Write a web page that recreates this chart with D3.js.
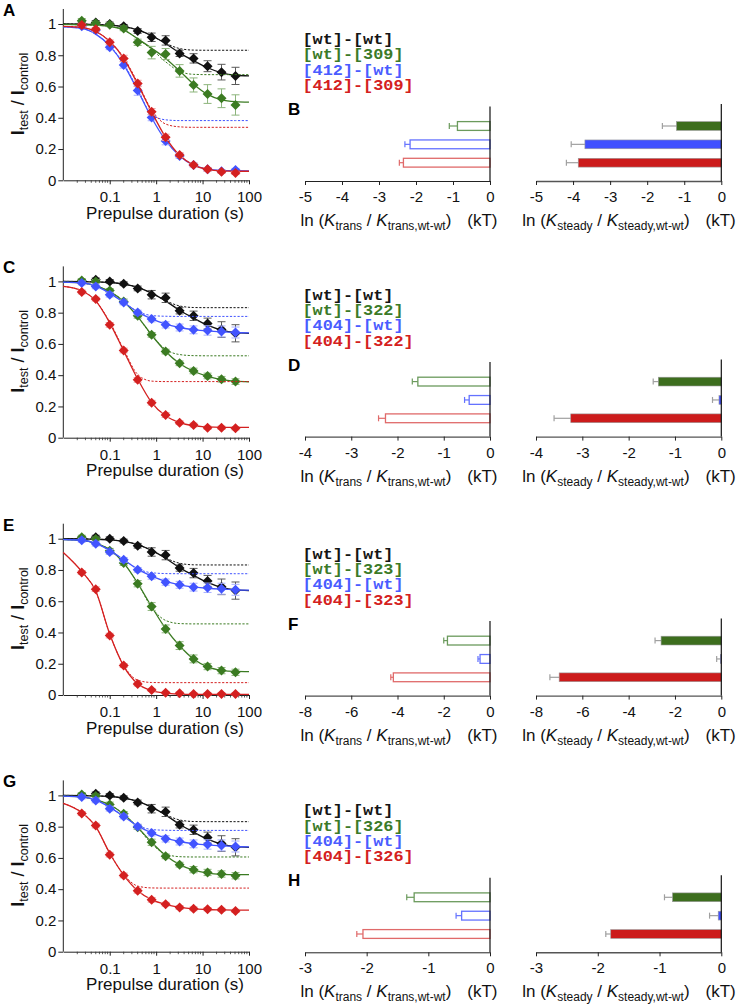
<!DOCTYPE html>
<html><head><meta charset="utf-8">
<script src="https://cdn.jsdelivr.net/npm/d3@7"></script>
<style>body{margin:0;background:#fff} svg{display:block}</style>
</head><body><svg id="c" width="741" height="1005"></svg>
<script>
// ---------- DATA ----------
const durations = [0.025,0.05,0.1,0.2,0.4,0.8,1.6,3.2,6.4,12.8,25.6,51.2];
const fitDurations = [0.01,0.025,0.05,0.1,0.2,0.4,0.8,1.6,3.2,6.4,12.8,25.6,51.2,100];
const yTickVals = [0,0.2,0.4,0.6,0.8,1];
const yTickLabels = ["0","0.2","0.4","0.6","0.8","1"];
const xTickVals = [0.1,1,10,100];
const xTickLabels = ["0.1","1","10","100"];

// [wt]-[wt] (all panels)
const wtwt_mean = [1.0,1.01,1.0,0.985,0.955,0.915,0.895,0.812,0.78,0.73,0.692,0.668];
const wtwt_sem  = [0.012,0.012,0.012,0.012,0.015,0.027,0.03,0.02,0.03,0.035,0.05,0.055];
const wtwt_fit  = [1.0,0.999,0.997,0.993,0.983,0.962,0.925,0.875,0.815,0.765,0.72,0.688,0.672,0.668];
const wtwt_fit1 = [1.0,0.999,0.997,0.993,0.983,0.962,0.925,0.877,0.843,0.833,0.832,0.832,0.832,0.832];

// [404]-[wt] (C, E, G)
const m404wt_mean = [0.99,0.968,0.915,0.865,0.801,0.759,0.722,0.705,0.69,0.686,0.68,0.673];
const m404wt_sem  = [0.012,0.015,0.015,0.015,0.015,0.018,0.02,0.022,0.025,0.03,0.035,0.035];
const m404wt_fit  = [0.995,0.99,0.97,0.925,0.865,0.805,0.76,0.727,0.705,0.692,0.683,0.677,0.673,0.671];
const m404wt_fit1 = [0.995,0.99,0.97,0.925,0.866,0.808,0.782,0.777,0.776,0.776,0.776,0.776,0.776,0.776];

// Panel A
const wt309_mean = [1.02,1.005,0.995,0.972,0.883,0.817,0.808,0.70,0.61,0.552,0.525,0.482];
const wt309_sem  = [0.015,0.012,0.012,0.015,0.02,0.04,0.035,0.04,0.045,0.06,0.06,0.065];
const wt309_fit  = [0.997,0.995,0.992,0.985,0.963,0.905,0.845,0.78,0.70,0.615,0.55,0.515,0.503,0.5];
const wt309_fit1 = [0.997,0.995,0.992,0.985,0.963,0.905,0.838,0.758,0.697,0.678,0.676,0.676,0.676,0.676];
const m412wt_mean = [0.985,0.96,0.851,0.738,0.574,0.401,0.252,0.156,0.098,0.07,0.058,0.066];
const m412wt_sem  = [0.01,0.012,0.015,0.02,0.03,0.02,0.025,0.015,0.012,0.012,0.01,0.01];
const m412wt_fit  = [0.982,0.972,0.935,0.86,0.74,0.575,0.40,0.255,0.155,0.097,0.072,0.063,0.061,0.06];
const m412wt_fit1 = [0.982,0.972,0.935,0.862,0.745,0.585,0.42,0.387,0.382,0.382,0.382,0.382,0.382,0.382];
const m412_309_mean = [0.994,0.966,0.883,0.78,0.62,0.439,0.275,0.162,0.098,0.07,0.055,0.047];
const m412_309_sem  = [0.01,0.012,0.015,0.02,0.02,0.02,0.02,0.015,0.012,0.012,0.01,0.01];
const m412_309_fit  = [0.985,0.978,0.952,0.89,0.78,0.615,0.438,0.275,0.16,0.097,0.07,0.06,0.058,0.058];
const m412_309_fit1 = [0.985,0.978,0.952,0.89,0.785,0.625,0.45,0.36,0.342,0.339,0.339,0.339,0.339,0.339];

// Panel C
const wt322_mean = [1.006,1.0,0.942,0.872,0.78,0.658,0.551,0.476,0.427,0.395,0.374,0.359];
const wt322_sem  = [0.012,0.012,0.012,0.015,0.015,0.015,0.015,0.015,0.018,0.018,0.018,0.018];
const wt322_fit  = [0.995,0.99,0.972,0.935,0.872,0.775,0.657,0.552,0.475,0.425,0.393,0.372,0.362,0.358];
const wt322_fit1 = [0.995,0.99,0.972,0.935,0.872,0.775,0.655,0.565,0.532,0.525,0.524,0.524,0.524,0.524];
const m404_322_mean = [0.932,0.887,0.722,0.558,0.37,0.224,0.145,0.096,0.081,0.064,0.064,0.06];
const m404_322_sem  = [0.012,0.012,0.015,0.015,0.015,0.015,0.015,0.012,0.012,0.01,0.01,0.01];
const m404_322_fit  = [0.968,0.94,0.875,0.735,0.555,0.375,0.225,0.14,0.097,0.077,0.069,0.066,0.066,0.066];
const m404_322_fit1 = [0.968,0.94,0.875,0.74,0.565,0.405,0.362,0.359,0.359,0.359,0.359,0.359,0.359,0.359];

// Panel E
const wt323_mean = [1.01,0.998,0.923,0.844,0.712,0.566,0.423,0.316,0.231,0.182,0.156,0.145];
const wt323_sem  = [0.012,0.012,0.015,0.015,0.02,0.025,0.025,0.025,0.025,0.02,0.02,0.02];
const wt323_fit  = [0.995,0.99,0.97,0.93,0.845,0.715,0.565,0.425,0.315,0.23,0.18,0.158,0.151,0.15];
const wt323_fit1 = [0.995,0.99,0.97,0.93,0.845,0.715,0.56,0.477,0.457,0.455,0.455,0.455,0.455,0.455];
const m404_323_mean = [0.784,0.677,0.38,0.188,0.07,0.032,0.015,0.011,0.006,0.006,0.006,0.006];
const m404_323_sem  = [0.012,0.015,0.015,0.012,0.012,0.01,0.008,0.008,0.008,0.008,0.008,0.008];
const m404_323_fit  = [0.912,0.79,0.665,0.39,0.185,0.072,0.028,0.012,0.006,0.004,0.004,0.004,0.004,0.004];
const m404_323_fit1 = [0.912,0.79,0.665,0.39,0.19,0.095,0.08,0.079,0.079,0.079,0.079,0.079,0.079,0.079];

// Panel G
const wt326_mean = [1.006,0.996,0.942,0.882,0.797,0.70,0.61,0.557,0.525,0.507,0.497,0.486];
const wt326_sem  = [0.012,0.012,0.015,0.015,0.015,0.02,0.015,0.015,0.02,0.02,0.02,0.02];
const wt326_fit  = [0.995,0.99,0.972,0.94,0.88,0.795,0.70,0.615,0.557,0.522,0.503,0.495,0.493,0.493];
const wt326_fit1 = [0.995,0.99,0.972,0.94,0.88,0.795,0.69,0.625,0.608,0.606,0.606,0.606,0.606,0.606];
const m404_326_mean = [0.884,0.807,0.621,0.488,0.39,0.332,0.304,0.283,0.274,0.272,0.268,0.261];
const m404_326_sem  = [0.012,0.015,0.015,0.015,0.015,0.015,0.012,0.012,0.012,0.01,0.01,0.01];
const m404_326_fit  = [0.949,0.89,0.80,0.63,0.49,0.39,0.333,0.302,0.284,0.274,0.27,0.267,0.266,0.266];
const m404_326_fit1 = [0.949,0.89,0.80,0.63,0.495,0.42,0.408,0.407,0.407,0.407,0.407,0.407,0.407,0.407];

// Legends
const legendA = ["[wt]-[wt]","[wt]-[309]","[412]-[wt]","[412]-[309]"];
const legendC = ["[wt]-[wt]","[wt]-[322]","[404]-[wt]","[404]-[322]"];
const legendE = ["[wt]-[wt]","[wt]-[323]","[404]-[wt]","[404]-[323]"];
const legendG = ["[wt]-[wt]","[wt]-[326]","[404]-[wt]","[404]-[326]"];

// Bar panels (order: green, blue, red)
const transB = [-0.88,-2.16,-2.34], transErrB = [0.22,0.14,0.11];
const steadyB = [-1.21,-3.68,-3.86], steadyErrB = [0.38,0.37,0.32];
const transD = [-1.56,-0.45,-2.26], transErrD = [0.12,0.10,0.15];
const steadyD = [-1.36,-0.05,-3.25], steadyErrD = [0.11,0.14,0.36];
const transF = [-1.84,-0.43,-4.18], transErrF = [0.16,0.09,0.11];
const steadyF = [-2.6,-0.04,-7.0], steadyErrF = [0.26,0.16,0.40];
const transH = [-1.23,-0.46,-2.06], transErrH = [0.12,0.09,0.10];
const steadyH = [-0.79,-0.05,-1.79], steadyErrH = [0.13,0.14,0.08];
const barTicksB = [-5,-4,-3,-2,-1,0], barLabelsB = ["-5","-4","-3","-2","-1","0"];
const barTicksD = [-4,-3,-2,-1,0], barLabelsD = ["-4","-3","-2","-1","0"];
const barTicksF = [-8,-6,-4,-2,0], barLabelsF = ["-8","-6","-4","-2","0"];
const barTicksH = [-3,-2,-1,0], barLabelsH = ["-3","-2","-1","0"];

// ---------- STYLE / LAYOUT ----------
const col = ["#111111","#3b7b22","#4254ff","#d42020"];
const errCol = ["#5a5a5a","#8db57c","#a8b0ff","#f0a2a2"];
const barFill = ["#3d6e1e","#4050ff","#cc1b1b"];
const openStroke = ["#6b9a5c","#6472ff","#e06a6a"];
const leftDY = [0,257.4,514.7,771.4];
const rightDY = [0,255.6,514.6,771.3];
const FONT = '"Liberation Sans",Arial,Helvetica,sans-serif';
const MONO = '"Liberation Mono","Courier New",Courier,monospace';
const svg = d3.select("#c");

const linePanels = [
  {letter:"A", series:[[wtwt_mean,wtwt_sem,wtwt_fit,wtwt_fit1],[wt309_mean,wt309_sem,wt309_fit,wt309_fit1],[m412wt_mean,m412wt_sem,m412wt_fit,m412wt_fit1],[m412_309_mean,m412_309_sem,m412_309_fit,m412_309_fit1]]},
  {letter:"C", series:[[wtwt_mean,wtwt_sem,wtwt_fit,wtwt_fit1],[wt322_mean,wt322_sem,wt322_fit,wt322_fit1],[m404wt_mean,m404wt_sem,m404wt_fit,m404wt_fit1],[m404_322_mean,m404_322_sem,m404_322_fit,m404_322_fit1]]},
  {letter:"E", series:[[wtwt_mean,wtwt_sem,wtwt_fit,wtwt_fit1],[wt323_mean,wt323_sem,wt323_fit,wt323_fit1],[m404wt_mean,m404wt_sem,m404wt_fit,m404wt_fit1],[m404_323_mean,m404_323_sem,m404_323_fit,m404_323_fit1]]},
  {letter:"G", series:[[wtwt_mean,wtwt_sem,wtwt_fit,wtwt_fit1],[wt326_mean,wt326_sem,wt326_fit,wt326_fit1],[m404wt_mean,m404wt_sem,m404wt_fit,m404wt_fit1],[m404_326_mean,m404_326_sem,m404_326_fit,m404_326_fit1]]}
];
const barPanels = [
  {letter:"B", legend:legendA, trans:transB, transErr:transErrB, steady:steadyB, steadyErr:steadyErrB, ticks:barTicksB, labels:barLabelsB},
  {letter:"D", legend:legendC, trans:transD, transErr:transErrD, steady:steadyD, steadyErr:steadyErrD, ticks:barTicksD, labels:barLabelsD},
  {letter:"F", legend:legendE, trans:transF, transErr:transErrF, steady:steadyF, steadyErr:steadyErrF, ticks:barTicksF, labels:barLabelsF},
  {letter:"H", legend:legendG, trans:transH, transErr:transErrH, steady:steadyH, steadyErr:steadyErrH, ticks:barTicksH, labels:barLabelsH}
];

function styleAxis(g, size){
  g.attr("font-family", FONT).attr("font-size", size);
  g.selectAll("text").attr("fill","#111").style("font-family", FONT);
  g.selectAll("line").attr("stroke","#222");
}
function txt(sel){ return sel.append("text").style("font-family", FONT); }

// ---------- LINE PANELS ----------
linePanels.forEach((p, pi) => {
  const dy = leftDY[pi];
  const x = d3.scaleLog().domain([0.01,100]).range([63.3,249]);
  const y = d3.scaleLinear().domain([0,1]).range([180.3+dy, 24+dy]);
  const g = svg.append("g");

  txt(g).attr("x",3).attr("y",16+dy).attr("font-size",17).attr("font-weight","bold").attr("fill","#000").text(p.letter);

  // y axis
  const gy = g.append("g").attr("transform","translate(63.3,0)")
    .call(d3.axisLeft(y).tickValues(yTickVals).tickFormat((d,i)=>yTickLabels[i]).tickSize(5).tickPadding(2));
  gy.select(".domain").remove();
  styleAxis(gy, 15);
  g.append("line").attr("x1",x(0.01)).attr("x2",x(0.01)).attr("y1",y(0)).attr("y2",y(1.096)).attr("stroke","#222").attr("stroke-width",1);

  // x axis: majors
  const gx = g.append("g").attr("transform",`translate(0,${y(0)})`)
    .call(d3.axisBottom(x).tickValues(xTickVals).tickFormat((d,i)=>xTickLabels[i]).tickSize(4).tickPadding(7.5).tickSizeOuter(0));
  gx.select(".domain").attr("stroke","#222");
  styleAxis(gx, 15);
  // minors
  const minors = [];
  [0.01,0.1,1,10].forEach(dec => { for (let k=2;k<=9;k++) minors.push(dec*k); });
  g.append("g").selectAll("line").data(minors).join("line")
    .attr("x1",d=>x(d)).attr("x2",d=>x(d)).attr("y1",y(0)).attr("y2",y(0)+2.5)
    .attr("stroke","#333").attr("stroke-width",0.8);

  // titles
  txt(g).attr("x",165).attr("y",219+dy).attr("text-anchor","middle").attr("font-size",17).attr("fill","#111").text("Prepulse duration (s)");
  const yt = txt(g).attr("transform",`translate(24,${94+dy}) rotate(-90)`).attr("text-anchor","middle").attr("font-size",18).attr("fill","#111");
  yt.append("tspan").attr("font-weight","bold").text("I");
  yt.append("tspan").attr("font-size",12.5).attr("dy",4).text("test");
  yt.append("tspan").attr("dy",-4).text(" / ");
  yt.append("tspan").attr("font-weight","bold").text("I");
  yt.append("tspan").attr("font-size",12.5).attr("dy",4).text("control");

  const line = d3.line().x(d=>x(d[0])).y(d=>y(d[1])).curve(d3.curveMonotoneX);
  const sym = d3.symbol(d3.symbolSquare, 50);

  p.series.forEach((s, si) => {
    const [mean, sem, fit, fit1] = s;
    const sg = g.append("g");
    sg.append("path").attr("d", line(fitDurations.map((t,i)=>[t,fit1[i]])))
      .attr("fill","none").attr("stroke",col[si]).attr("stroke-width",1).attr("stroke-dasharray","2.2,1.6");
    sg.append("path").attr("d", line(fitDurations.map((t,i)=>[t,fit[i]])))
      .attr("fill","none").attr("stroke",col[si]).attr("stroke-width",1.3);
    const pts = durations.map((t,i)=>({t, v:mean[i], e:sem[i]}));
    const eg = sg.append("g").attr("stroke",errCol[si]).attr("stroke-width",1);
    eg.selectAll(".v").data(pts).join("line").attr("x1",d=>x(d.t)).attr("x2",d=>x(d.t)).attr("y1",d=>y(d.v-d.e)).attr("y2",d=>y(d.v+d.e));
    eg.selectAll(".t").data(pts).join("line").attr("x1",d=>x(d.t)-4).attr("x2",d=>x(d.t)+4).attr("y1",d=>y(d.v+d.e)).attr("y2",d=>y(d.v+d.e));
    eg.selectAll(".b").data(pts).join("line").attr("x1",d=>x(d.t)-4).attr("x2",d=>x(d.t)+4).attr("y1",d=>y(d.v-d.e)).attr("y2",d=>y(d.v-d.e));
    sg.append("g").selectAll("path").data(pts).join("path")
      .attr("d", sym).attr("transform",d=>`translate(${x(d.t)},${y(d.v)}) rotate(45)`)
      .attr("fill",col[si]);
  });
});

// ---------- BAR PANELS ----------
barPanels.forEach((p, pi) => {
  const dy = rightDY[pi];
  const axisY = 181 + dy;
  const g = svg.append("g");
  const dom = p.ticks[0];

  // legend (glyphs stretched horizontally to the reference's wide monospace look)
  const legCols = ["#151515","#3b7a28","#4a5cff","#d42020"];
  p.legend.forEach((t,i)=>{
    g.append("text").attr("x",302.5).attr("y",44+dy+i*15.3)
      .style("font-family", MONO).attr("font-weight","bold")
      .attr("font-size",14).attr("fill",legCols[i])
      .attr("textLength", t.length*10.1).attr("lengthAdjust","spacingAndGlyphs")
      .text(t);
  });
  txt(g).attr("x",288).attr("y",115+dy).attr("font-size",17).attr("font-weight","bold").attr("fill","#000").text(p.letter);

  const yb = d3.scalePoint().domain([0,1,2]).range([axisY-55, axisY-18.3]);
  const charts = [
    {vals:p.trans, errs:p.transErr, r:[305,490], open:true, zeroTop:74.5, title:["trans","trans,wt-wt"], cx:399},
    {vals:p.steady, errs:p.steadyErr, r:[536,721.3], open:false, zeroTop:77, title:["steady","steady,wt-wt"], cx:629}
  ];
  charts.forEach(c => {
    const xs = d3.scaleLinear().domain([dom,0]).range(c.r);
    const ax = g.append("g").attr("transform",`translate(0,${axisY})`)
      .call(d3.axisBottom(xs).tickValues(p.ticks).tickFormat((d,i)=>p.labels[i]).tickSize(4).tickPadding(6.5).tickSizeOuter(0));
    styleAxis(ax, 15);
    ax.select(".domain").attr("stroke", c.open ? "#222" : "#555").attr("stroke-width", c.open ? 1 : 1.4);

    const data = c.vals.map((v,i)=>({i, v, e:c.errs[i]}));
    const eg = g.append("g");
    eg.selectAll(".l").data(data).join("line")
      .attr("x1",d=>xs(d.v)).attr("x2",d=>xs(d.v-d.e)).attr("y1",d=>yb(d.i)).attr("y2",d=>yb(d.i))
      .attr("stroke",d=>c.open?openStroke[d.i]:"#a0a0a0").attr("stroke-width",1.2);
    eg.selectAll(".c").data(data).join("line")
      .attr("x1",d=>xs(d.v-d.e)).attr("x2",d=>xs(d.v-d.e)).attr("y1",d=>yb(d.i)-3).attr("y2",d=>yb(d.i)+3)
      .attr("stroke",d=>c.open?openStroke[d.i]:"#a0a0a0").attr("stroke-width",1.2);
    g.append("g").selectAll("rect").data(data).join("rect")
      .attr("x",d=>xs(d.v)).attr("width",d=>xs(0)-xs(d.v))
      .attr("y",d=>yb(d.i)-4.4).attr("height",8.8)
      .attr("fill",d=>c.open?"#fff":barFill[d.i])
      .attr("stroke",d=>c.open?openStroke[d.i]:"#9a9a9a")
      .attr("stroke-width",d=>c.open?1.3:0.6);
    g.append("line").attr("x1",xs(0)).attr("x2",xs(0)).attr("y1",axisY).attr("y2",axisY-c.zeroTop).attr("stroke","#111").attr("stroke-width",1.2);

    const t = txt(g).attr("x",c.cx).attr("y",axisY+45).attr("text-anchor","middle").attr("font-size",17).attr("fill","#111");
    t.append("tspan").text("ln (");
    t.append("tspan").attr("font-style","italic").text("K");
    t.append("tspan").attr("font-size",12).attr("dy",4).text(c.title[0]);
    t.append("tspan").attr("dy",-4).text(" / ");
    t.append("tspan").attr("font-style","italic").text("K");
    t.append("tspan").attr("font-size",12).attr("dy",4).text(c.title[1]);
    t.append("tspan").attr("dy",-4).text(")");
    t.append("tspan").attr("dx",16).text("(kT)");
  });
});
</script></body></html>
